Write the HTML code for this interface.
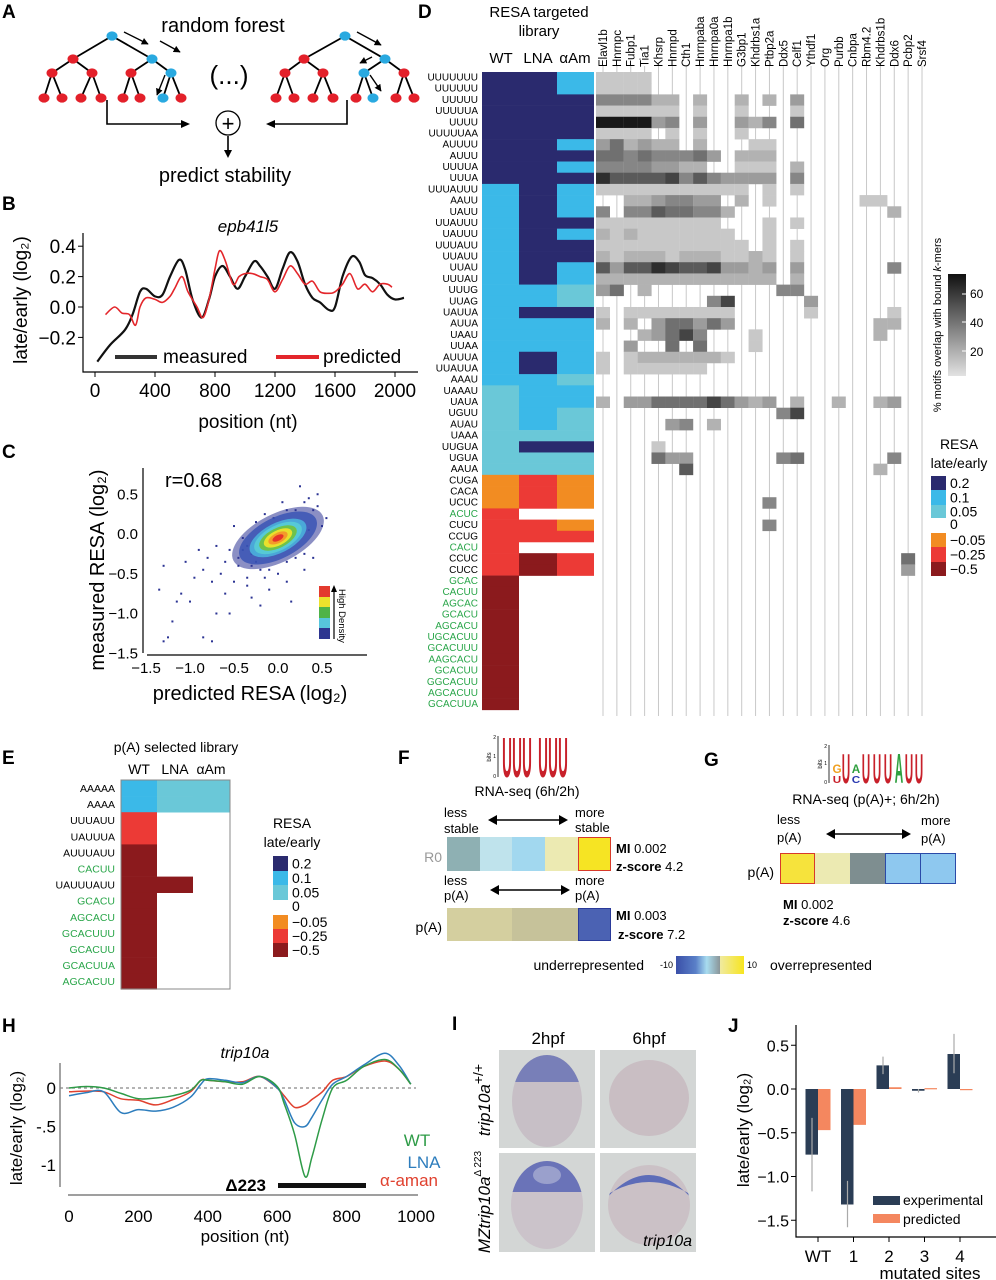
<!DOCTYPE html>
<html><head><meta charset="utf-8"><style>
html,body{margin:0;padding:0;background:#fff;}
svg{display:block;font-family:"Liberation Sans",Arial,sans-serif;}
</style></head><body>
<svg id="fig" width="996" height="1280" viewBox="0 0 996 1280" xmlns="http://www.w3.org/2000/svg">
<defs>
<linearGradient id="cbgrad" x1="0" x2="1" y1="0" y2="0">
<stop offset="0" stop-color="#3a4fa8"/><stop offset="0.45" stop-color="#5a80c8"/><stop offset="0.7" stop-color="#a8dcef"/><stop offset="1" stop-color="#8a9598"/>
</linearGradient>
<linearGradient id="graybar" x1="0" x2="0" y1="0" y2="1">
<stop offset="0" stop-color="#111"/><stop offset="1" stop-color="#e2e2e2"/>
</linearGradient>
<linearGradient id="ybar" x1="0" x2="1"><stop offset="0" stop-color="#f0eaa0"/><stop offset="1" stop-color="#f7e51f"/></linearGradient>
<marker id="ah" viewBox="0 0 10 10" refX="9" refY="5" markerWidth="5" markerHeight="5" orient="auto"><path d="M0,0 L10,5 L0,10 Z" fill="#000"/></marker>
</defs>

<!-- Panel labels -->
<g font-weight="bold" font-size="19">
<text x="2" y="18">A</text>
<text x="2" y="210">B</text>
<text x="2" y="458">C</text>
<text x="418" y="18">D</text>
<text x="2" y="764">E</text>
<text x="398" y="764">F</text>
<text x="704" y="766">G</text>
<text x="2" y="1032">H</text>
<text x="452" y="1030">I</text>
<text x="728" y="1032">J</text>
</g>

<!-- Panel A -->
<g id="panelA">
<text x="223" y="32" font-size="20" text-anchor="middle">random forest</text>
<text x="229" y="84" font-size="26" text-anchor="middle">(...)</text>
<text x="225" y="182" font-size="20" text-anchor="middle">predict stability</text>
<circle cx="228" cy="123" r="12" fill="none" stroke="#000" stroke-width="1.3"/>
<text x="228" y="131" font-size="22" text-anchor="middle">+</text>
</g>

<!-- Panel B -->
<g id="panelB">
<text x="248" y="232" font-size="17" font-style="italic" text-anchor="middle">epb41l5</text>
<text transform="translate(27,300) rotate(-90)" font-size="19" text-anchor="middle">late/early (log₂)</text>
<text x="248" y="428" font-size="19" text-anchor="middle">position (nt)</text>
<line x1="115" y1="357" x2="157" y2="357" stroke="#333" stroke-width="4"/>
<text x="163" y="363" font-size="19">measured</text>
<line x1="276" y1="357" x2="319" y2="357" stroke="#e3262b" stroke-width="4"/>
<text x="323" y="363" font-size="19">predicted</text>
</g>

<!-- Panel C -->
<g id="panelC">
<text x="165" y="487" font-size="20">r=0.68</text>
<text transform="translate(104,570) rotate(-90)" font-size="20" text-anchor="middle">measured RESA (log₂)</text>
<text x="250" y="700" font-size="20" text-anchor="middle">predicted RESA (log₂)</text>
<g>
<rect x="319" y="586" width="11" height="11" fill="#e33a2e"/>
<rect x="319" y="597" width="11" height="10" fill="#ece22c"/>
<rect x="319" y="607" width="11" height="11" fill="#4fb348"/>
<rect x="319" y="618" width="11" height="10" fill="#57c6dc"/>
<rect x="319" y="628" width="11" height="11" fill="#2d3590"/>
<line x1="334" y1="639" x2="334" y2="590" stroke="#000" stroke-width="1.2"/>
<path d="M331,592 L334,585 L337,592 Z" fill="#000"/>
<text transform="translate(339,589) rotate(90)" font-size="9.5">High Density</text>
</g>
</g>

<!-- Panel D header -->
<g id="panelD">
<text x="539" y="17" font-size="15" text-anchor="middle">RESA targeted</text>
<text x="539" y="36" font-size="15" text-anchor="middle">library</text>
<text x="501" y="63" font-size="15" text-anchor="middle">WT</text>
<text x="538" y="63" font-size="15" text-anchor="middle">LNA</text>
<text x="575" y="63" font-size="15" text-anchor="middle">αAm</text>
<rect x="948" y="274" width="18" height="102" fill="url(#graybar)"/>
<g font-size="12">
<line x1="962" y1="294" x2="966" y2="294" stroke="#fff"/><text x="970" y="298">60</text>
<line x1="962" y1="322" x2="966" y2="322" stroke="#fff"/><text x="970" y="327">40</text>
<line x1="962" y1="351" x2="966" y2="351" stroke="#fff"/><text x="970" y="356">20</text>
</g>
<text transform="translate(941,325) rotate(-90)" font-size="11" text-anchor="middle">% motifs overlap with bound <tspan font-style="italic">k</tspan>-mers</text>
<text x="959" y="449" font-size="14" text-anchor="middle">RESA</text>
<text x="959" y="468" font-size="14" text-anchor="middle">late/early</text>
</g>
<g id="legD"></g>

<!-- Panel E -->
<g id="panelE">
<text x="176" y="752" font-size="14" text-anchor="middle">p(A) selected library</text>
<text x="139" y="774" font-size="14" text-anchor="middle">WT</text>
<text x="175" y="774" font-size="14" text-anchor="middle">LNA</text>
<text x="211" y="774" font-size="14" text-anchor="middle">αAm</text>
<text x="292" y="828" font-size="14" text-anchor="middle">RESA</text>
<text x="292" y="847" font-size="14" text-anchor="middle">late/early</text>
</g>
<g id="legE"></g>

<!-- Panel F -->
<g id="panelF">
<g>
<line x1="498" y1="736" x2="498" y2="777" stroke="#000" stroke-width="0.8"/>
<text x="496" y="739" font-size="5" text-anchor="end">2</text><text x="496" y="758" font-size="5" text-anchor="end">1</text><text x="496" y="778" font-size="5" text-anchor="end">0</text>
<text transform="translate(491,757) rotate(-90)" font-size="6" text-anchor="middle">bits</text>
<g fill="#c8202a" font-size="15" font-weight="bold" text-anchor="middle">
<text transform="translate(507,777) scale(0.9,3.8)">U</text><text transform="translate(517,777) scale(0.9,3.8)">U</text><text transform="translate(527,777) scale(0.9,3.8)">U</text>
<text transform="translate(543,777) scale(0.9,3.8)">U</text><text transform="translate(553,777) scale(0.9,3.8)">U</text><text transform="translate(563,777) scale(0.9,3.8)">U</text>
</g></g>
<text x="527" y="796" font-size="14" text-anchor="middle">RNA-seq (6h/2h)</text>
<text x="444" y="817" font-size="13">less</text>
<text x="444" y="833" font-size="13">stable</text>
<text x="575" y="817" font-size="13">more</text>
<text x="575" y="832" font-size="13">stable</text>
<g><line x1="494" y1="820" x2="562" y2="820" stroke="#000" stroke-width="1.6"/><path d="M488,820 L497,815 L497,825Z M568,820 L559,815 L559,825Z"/></g>
<text x="442" y="862" font-size="14" fill="#999" text-anchor="end">R0</text>
<rect x="447" y="837" width="33" height="34" fill="#8eb0b3"/><rect x="480" y="837" width="32" height="34" fill="#bfe3ec"/>
<rect x="512" y="837" width="33" height="34" fill="#a2d8ef"/><rect x="545" y="837" width="33" height="34" fill="#eceab2"/>
<rect x="578.5" y="837.5" width="32" height="33" fill="#f6e423" stroke="#d83a2a"/>
<text x="616" y="853" font-size="13"><tspan font-weight="bold">MI</tspan> 0.002</text>
<text x="616" y="871" font-size="13"><tspan font-weight="bold">z-score</tspan> 4.2</text>
<text x="444" y="885" font-size="13">less</text>
<text x="444" y="900" font-size="13">p(A)</text>
<text x="575" y="885" font-size="13">more</text>
<text x="575" y="900" font-size="13">p(A)</text>
<g><line x1="496" y1="890" x2="564" y2="890" stroke="#000" stroke-width="1.6"/><path d="M490,890 L499,885 L499,895Z M570,890 L561,885 L561,895Z"/></g>
<text x="442" y="932" font-size="14" text-anchor="end">p(A)</text>
<rect x="447" y="908" width="65" height="33" fill="#d4cf9f"/><rect x="512" y="908" width="66" height="33" fill="#c6c29a"/>
<rect x="578.5" y="908.5" width="32" height="32" fill="#4b62b3" stroke="#2a3a9a"/>
<text x="616" y="920" font-size="13"><tspan font-weight="bold">MI</tspan> 0.003</text>
<text x="618" y="939" font-size="13"><tspan font-weight="bold">z-score</tspan> 7.2</text>
<text x="644" y="970" font-size="14" text-anchor="end">underrepresented</text>
<text x="673" y="968" font-size="9" text-anchor="end">-10</text>
<rect x="676" y="956" width="44" height="18" fill="url(#cbgrad)"/>
<rect x="720" y="956" width="24" height="18" fill="url(#ybar)"/>
<text x="747" y="968" font-size="9">10</text>
<text x="770" y="970" font-size="14">overrepresented</text>
</g>

<!-- Panel G -->
<g id="panelG">
<g>
<line x1="829" y1="745" x2="829" y2="783" stroke="#000" stroke-width="0.8"/>
<text x="827" y="748" font-size="5" text-anchor="end">2</text><text x="827" y="765" font-size="5" text-anchor="end">1</text><text x="827" y="784" font-size="5" text-anchor="end">0</text>
<text transform="translate(822,764) rotate(-90)" font-size="6" text-anchor="middle">bits</text>
<g font-size="13" font-weight="bold" text-anchor="middle">
<text transform="translate(837,783) scale(0.9,0.8)" fill="#c8202a">U</text>
<text transform="translate(837,773) scale(0.9,0.9)" fill="#f0a020">G</text>
<text transform="translate(846,783) scale(0.9,3.2)" fill="#c8202a">U</text>
<text transform="translate(856,783) scale(0.9,0.8)" fill="#2a3ab0">C</text>
<text transform="translate(856,773) scale(0.9,0.9)" fill="#30a040">A</text>
<text transform="translate(866,783) scale(0.9,3.2)" fill="#c8202a">U</text>
<text transform="translate(877,783) scale(0.9,3.2)" fill="#c8202a">U</text>
<text transform="translate(888,783) scale(0.9,3.2)" fill="#c8202a">U</text>
<text transform="translate(899,783) scale(0.9,3.2)" fill="#30a040">A</text>
<text transform="translate(909,783) scale(0.9,3.2)" fill="#c8202a">U</text>
<text transform="translate(919,783) scale(0.9,3.2)" fill="#c8202a">U</text>
</g></g>
<text x="866" y="804" font-size="14" text-anchor="middle">RNA-seq (p(A)+; 6h/2h)</text>
<text x="777" y="824" font-size="13">less</text>
<text x="777" y="842" font-size="13">p(A)</text>
<text x="921" y="825" font-size="13">more</text>
<text x="921" y="843" font-size="13">p(A)</text>
<g><line x1="832" y1="834" x2="905" y2="834" stroke="#000" stroke-width="1.6"/><path d="M826,834 L835,829 L835,839Z M911,834 L902,829 L902,839Z"/></g>
<text x="774" y="877" font-size="14" text-anchor="end">p(A)</text>
<rect x="780.5" y="853.5" width="34" height="30" fill="#f6e33c" stroke="#d83a2a"/>
<rect x="815" y="853" width="35" height="31" fill="#eceab2"/>
<rect x="850" y="853" width="35" height="31" fill="#7e8e90"/>
<rect x="885.5" y="853.5" width="35" height="30" fill="#8ec8ef" stroke="#2a4aa8"/>
<rect x="920.5" y="853.5" width="35" height="30" fill="#8ec8ef" stroke="#2a4aa8"/>
<text x="783" y="909" font-size="13"><tspan font-weight="bold">MI</tspan>  0.002</text>
<text x="783" y="925" font-size="13"><tspan font-weight="bold">z-score</tspan>  4.6</text>
</g>

<!-- Panel H -->
<g id="panelH">
<text x="245" y="1058" font-size="16" font-style="italic" text-anchor="middle">trip10a</text>
<text transform="translate(22,1128) rotate(-90)" font-size="17" text-anchor="middle">late/early (log₂)</text>
<text x="245" y="1242" font-size="17" text-anchor="middle">position (nt)</text>
<text x="417" y="1146" font-size="17" fill="#2e9b47" text-anchor="middle">WT</text>
<text x="424" y="1168" font-size="17" fill="#2d7dbd" text-anchor="middle">LNA</text>
<text x="438" y="1186" font-size="17" fill="#e0412f" text-anchor="end">α-aman</text>
<text x="266" y="1191" font-size="17" font-weight="bold" text-anchor="end">Δ223</text>
<rect x="278" y="1183" width="88" height="5" fill="#111"/>
</g>

<!-- Panel I -->
<g id="panelI">
<text x="548" y="1044" font-size="17" text-anchor="middle">2hpf</text>
<text x="649" y="1044" font-size="17" text-anchor="middle">6hpf</text>
<text transform="translate(490,1100) rotate(-90)" font-size="17" text-anchor="middle"><tspan font-style="italic">trip10a</tspan><tspan dy="-7" font-size="14">+/+</tspan></text>
<text transform="translate(490,1202) rotate(-90)" font-size="17" text-anchor="middle"><tspan font-style="italic">MZtrip10a</tspan><tspan dy="-9" font-size="10">Δ 223</tspan></text>
<rect x="499" y="1050" width="96" height="98" fill="#d3d6d5"/>
<rect x="600" y="1050" width="96" height="98" fill="#d3d6d5"/>
<rect x="499" y="1153" width="96" height="99" fill="#d3d6d5"/>
<rect x="600" y="1153" width="96" height="99" fill="#d3d6d5"/>
<clipPath id="e1"><ellipse cx="547" cy="1101" rx="35" ry="46"/></clipPath>
<ellipse cx="547" cy="1101" rx="35" ry="46" fill="#c7bfc6"/>
<rect x="510" y="1054" width="75" height="28" fill="#6f78b6" clip-path="url(#e1)" opacity="0.9"/>
<ellipse cx="649" cy="1098" rx="40" ry="38" fill="#c9bec3"/>
<clipPath id="e3"><ellipse cx="547" cy="1205" rx="36" ry="44"/></clipPath>
<ellipse cx="547" cy="1205" rx="36" ry="44" fill="#cbc3ca"/>
<rect x="510" y="1160" width="75" height="32" fill="#6a73b8" clip-path="url(#e3)"/>
<ellipse cx="547" cy="1175" rx="14" ry="9" fill="#9aa0cc"/>
<clipPath id="e4"><ellipse cx="649" cy="1205" rx="41" ry="40"/></clipPath>
<ellipse cx="649" cy="1205" rx="41" ry="40" fill="#cbc1c6"/>
<path d="M605,1200 Q649,1150 693,1200 L693,1196 Q649,1168 605,1196 Z" fill="#5d6cb8" clip-path="url(#e4)"/>
<text x="692" y="1246" font-size="16" font-style="italic" text-anchor="end">trip10a</text>
</g>

<!-- Panel J -->
<g id="panelJ">
<text transform="translate(749,1130) rotate(-90)" font-size="17" text-anchor="middle">late/early (log₂)</text>
<text x="930" y="1279" font-size="17" text-anchor="middle">mutated sites</text>
<rect x="873" y="1196" width="27" height="9" fill="#2b3d55"/>
<text x="903" y="1205" font-size="14">experimental</text>
<rect x="873" y="1214" width="27" height="9" fill="#f4875f"/>
<text x="903" y="1224" font-size="14">predicted</text>
</g>
</svg>

<script>
// ===== Panel B data =====
const bMeasuredPos = [15,100,200,250,300,340,400,450,500,560,600,650,710,760,800,850,900,950,1000,1060,1100,1150,1200,1250,1300,1350,1400,1450,1500,1560,1600,1650,1710,1760,1800,1850,1900,1950,2000,2060];
const bMeasuredVal = [-0.36,-0.25,-0.15,-0.05,0.1,0.12,0.07,0.08,0.2,0.31,0.25,0.05,-0.07,0.05,0.2,0.27,0.2,0.12,0.2,0.3,0.27,0.2,0.12,0.25,0.36,0.3,0.15,0.06,0.03,-0.02,0.0,0.2,0.33,0.3,0.21,0.19,0.15,0.08,0.05,0.06];
const bPredPos = [70,130,180,230,270,300,340,400,450,500,530,580,620,680,720,760,800,830,870,920,960,1000,1050,1100,1150,1200,1250,1300,1350,1400,1450,1500,1560,1600,1650,1700,1750,1800,1850,1900,1950,1980];
const bPredVal = [-0.05,0.0,-0.04,-0.05,-0.12,0.0,0.06,0.05,0.03,0.07,0.12,0.2,0.1,0.0,-0.07,0.05,0.25,0.37,0.3,0.15,0.2,0.22,0.22,0.2,0.18,0.1,0.18,0.27,0.22,0.15,0.17,0.1,0.09,0.1,0.15,0.22,0.12,0.15,0.1,0.15,0.15,0.13];
const bXTicks = [0,400,800,1200,1600,2000];
const bYTicks = [0.4,0.2,0.0,-0.2];
const bYTickLabels = ["0.4","0.2","0.0","−0.2"];

// ===== Panel C data =====
const cXTicks = [-1.5,-1.0,-0.5,0.0,0.5];
const cXTickLabels = ["−1.5","−1.0","−0.5","0.0","0.5"];
const cYTicks = [0.5,0.0,-0.5,-1.0,-1.5];
const cYTickLabels = ["0.5","0.0","−0.5","−1.0","−1.5"];
const cPointsX = [-1.25,-1.2,-1.3,-1.15,-1.0,-0.85,-0.75,-0.7,-0.55,-1.35,-1.3,-1.05,-0.85,-0.8,-0.6,-0.5,-0.65,-0.45,-0.35,-0.3,-0.2,-0.1,0.1,-0.4,-0.55,-0.3,-0.7,-0.15,0.05,0.25,0.35,0.45,0.55,0.5,0.4,0.3,-0.5,0.15,-0.9,-1.1,-0.25,0.2,-0.45,-0.6,-0.35,-0.2,0.0,-0.05,0.3,0.45,-0.75,-0.95,-0.4,-0.15,0.1,0.35,-0.3,-0.25,-0.1,0.2,0.4,0.3,-0.35,0.1];
const cPointsY = [-1.3,-1.1,-1.35,-0.85,-0.85,-1.3,-1.35,-1.0,-1.0,-0.7,-0.4,-0.35,-0.45,-0.3,-0.75,-0.6,-0.5,-0.3,-0.55,-0.8,-0.9,-0.7,-0.6,-0.05,-0.2,-0.4,-0.15,0.25,0.4,0.6,0.45,0.5,0.2,0.1,-0.3,-0.45,0.1,-0.85,-0.2,-0.75,0.15,0.3,-0.4,-0.35,-0.65,-0.45,-0.5,0.2,-0.25,0.35,-0.6,-0.55,-0.2,-0.55,-0.35,0.05,-0.25,-0.35,-0.45,-0.3,0.3,0.4,-0.15,0.3];
const cBlobCenter = [0.0,-0.05];
const cBlobColors = ["#2b3393","#3a55b5","#4aa8d8","#56c9d6","#6fc24a","#e8e02c","#f39a2a","#e53229"];
const cBlobScale = [1.0,0.85,0.62,0.52,0.41,0.31,0.21,0.12];

// ===== Panel D data =====
const dRowLabels = ["UUUUUUU","UUUUUU","UUUUU","UUUUUA","UUUU","UUUUUAA","AUUUU","AUUU","UUUUA","UUUA","UUUAUUU","AAUU","UAUU","UUAUUU","UAUUU","UUUAUU","UUAUU","UUAU","UUUAU","UUUG","UUAG","UAUUA","AUUA","UAAU","UUAA","AUUUA","UUAUUA","AAAU","UAAAU","UAUA","UGUU","AUAU","UAAA","UUGUA","UGUA","AAUA","CUGA","CACA","UCUC","ACUC","CUCU","CCUG","CACU","CCUC","CUCC","GCAC","CACUU","AGCAC","GCACU","AGCACU","UGCACUU","GCACUUU","AAGCACU","GCACUU","GGCACUU","AGCACUU","GCACUUA"];
const dGreenRows = [39,42,45,46,47,48,49,50,51,52,53,54,55,56];
// level codes: 3=0.2,2=0.1,1=0.05,-1=-0.05,-2=-0.25,-3=-0.5, 0 = none
const dWTLevels  = [3,3,3,3,3,3,3,3,3,3, 2,2,2,2,2,2,2,2,2,2,2,2,2,2,2,2,2,2, 1,1,1,1,1,1,1,1, -1,-1,-1, -2,-2,-2,-2,-2,-2, -3,-3,-3,-3,-3,-3,-3,-3,-3,-3,-3,-3];
const dLNALevels = [3,3,3,3,3,3,3,3,3,3,3,3,3,3,3,3,3,3,3, 2,2, 3, 2,2,2, 3,3, 2,2,2,2,2, 1, 3, 1,1, -2,-2,-2, 0, -2,-2, 0, -3,-3, 0,0,0,0,0,0,0,0,0,0,0,0];
const dAAmLevels = [2,2,3,3,3,3,2,3,2,3, 2,2,2,3,2,3,3,2,2, 1,1, 3, 2,2,2,2,2, 1, 2,2, 1,1,1, 3, 1,1, -1,-1,-1, 0, -1, -2, 0, -2,-2, 0,0,0,0,0,0,0,0,0,0,0,0];
const dRbps = ["Elavl1b","Hnrnpc","Fubp1","Tia1","Khsrp","Hnrnpd","Cth1","Hnrnpaba","Hnrnpa0a","Hnrnpa1b","G3bp1","Khdrbs1a","Ptbp2a","Ddx5","Celf1","Ythdf1","Org","Purbb","Cnbpa","Rbm4.2","Khdrbs1b","Ddx6","Pcbp2","Srsf4"];
const dOverlap = [
"111100000000000000000000","111100000000000000000000","444422020020203000000000","111111010010001000000000",
"999934030032405000000000","111101010010000000000000","352322020001100000000000","554544453022200000000000",
"444433220011102000000000","866667464333304000000000","111111111110101000000000","002234433020100000011000",
"404465544200000000000200","111111111000101000000000","212111111100100000000000","111111111110101000000000",
"212221222112101000000000","636687667332303000000400","222222222222202000000000","350200000000044000000000",
"000000004700000300000000","101111111100000100000100","202035535300000000002200","000235740001000000002000",
"003005050001000000000000","101222222100000000000000","101111110000000000000000","000000000000000000000000",
"000000000000000000000000","203355557532302002002300","000000000000047000000000","000003402000000000000000",
"000000000000000000000000","000010000000000000000000","000053300000045000000400","000000600000000000002000",
"000000000000000000000000","000000000000000000000000","000000000000400000000000","000000000000000000000000",
"000000000000400000000000","000000000000000000000000","000000000000000000000000","000000000000000000000050",
"000000000000000000000030"];
const legendLabels = ["0.2","0.1","0.05","0","−0.05","−0.25","−0.5"];

// ===== Panel E data =====
const eRowLabels = ["AAAAA","AAAA","UUUAUU","UAUUUA","AUUUAUU","CACUU","UAUUUAUU","GCACU","AGCACU","GCACUUU","GCACUU","GCACUUA","AGCACUU"];
const eGreenRows = [5,7,8,9,10,11,12];
const eWTLevels  = [2,2,-2,-2,-3,-3,-3,-3,-3,-3,-3,-3,-3];
const eLNALevels = [1,1,0,0,0,0,-3,0,0,0,0,0,0];
const eAAmLevels = [1,1,0,0,0,0,0,0,0,0,0,0,0];

// ===== Panel H data =====
const hPos = [0,50,100,150,200,250,300,350,380,400,450,500,550,600,620,650,680,700,730,760,800,850,910,950,985];
const hWT  = [0,0.02,0,-0.07,-0.14,-0.13,-0.1,-0.03,0.1,0.1,0.08,0.05,0.15,0.02,-0.2,-0.6,-1.15,-0.9,-0.4,0.0,0.1,0.28,0.37,0.25,0.05];
const hLNA = [-0.1,-0.06,-0.05,-0.32,-0.28,-0.3,-0.25,-0.12,0.05,0.12,0.1,0.07,0.15,0.0,-0.15,-0.45,-0.5,-0.38,-0.15,0.05,0.15,0.3,0.45,0.3,0.05];
const hAman= [-0.05,-0.04,-0.05,-0.14,-0.16,-0.22,-0.15,-0.05,0.1,0.1,0.08,0.08,0.15,0.0,-0.1,-0.25,-0.22,-0.15,-0.05,0.1,0.15,0.28,0.35,0.25,0.05];
const hXTicks = [0,200,400,600,800,1000];
const hYTicks = [0,-0.5,-1];
const hYTickLabels = ["0","-.5","-1"];

// ===== Panel J data =====
const jCategories = ["WT","1","2","3","4"];
const jExperimental = [-0.75,-1.32,0.27,-0.02,0.4];
const jPredicted = [-0.47,-0.41,0.02,0.01,-0.01];
const jErrLow = [-1.17,-1.58,0.17,-0.04,0.18];
const jErrHigh = [-0.33,-1.05,0.37,0.0,0.63];
const jYTicks = [0.5,0.0,-0.5,-1.0,-1.5];
const jYTickLabels = ["0.5","0.0","−0.5","−1.0","−1.5"];

const NS = "http://www.w3.org/2000/svg";
function mk(parent, tag, attrs, txt) {
  const e = document.createElementNS(NS, tag);
  for (const k in attrs) e.setAttribute(k, attrs[k]);
  if (txt !== undefined) e.textContent = txt;
  parent.appendChild(e);
  return e;
}
function smooth(pts) {
  let d = "M" + pts[0][0].toFixed(1) + "," + pts[0][1].toFixed(1);
  for (let i = 0; i < pts.length - 1; i++) {
    const p0 = pts[i - 1] || pts[i], p1 = pts[i], p2 = pts[i + 1], p3 = pts[i + 2] || p2;
    const c1x = p1[0] + (p2[0] - p0[0]) / 6, c1y = p1[1] + (p2[1] - p0[1]) / 6;
    const c2x = p2[0] - (p3[0] - p1[0]) / 6, c2y = p2[1] - (p3[1] - p1[1]) / 6;
    d += " C" + c1x.toFixed(1) + "," + c1y.toFixed(1) + " " + c2x.toFixed(1) + "," + c2y.toFixed(1) + " " + p2[0].toFixed(1) + "," + p2[1].toFixed(1);
  }
  return d;
}

// ===== Panel A trees =====
(function () {
  const g = document.getElementById("panelA");
  const trees = [
    [[112,36,1],[73,59,0],[152,59,1],[52,73,0],[92,73,0],[131,73,0],[171,73,1],[44,98,0],[62,98,0],[81,98,0],[101,98,0],[123,98,0],[140,98,0],[163,98,1],[181,98,0]],
    [[345,36,1],[304,59,0],[385,59,1],[285,73,0],[323,73,0],[364,73,1],[404,73,0],[276,98,0],[294,98,0],[313,98,0],[333,98,0],[356,98,0],[373,98,1],[396,98,0],[414,98,0]]
  ];
  trees.forEach(function (n) {
    const edges = [[0,1],[0,2],[1,3],[1,4],[2,5],[2,6],[3,7],[3,8],[4,9],[4,10],[5,11],[5,12],[6,13],[6,14]];
    edges.forEach(function (e) {
      const l = mk(g, "line", {x1:n[e[0]][0], y1:n[e[0]][1], x2:n[e[1]][0], y2:n[e[1]][1], stroke:"#000", "stroke-width":1.8});
      
      
    });
    n.forEach(function (p) {
      const c = mk(g, "ellipse", {cx:p[0], cy:p[1], rx:5.5, ry:4.6, fill:p[2] ? "#29a9e0" : "#e3202a"});
      
      
    });
  });
  const arrows = [[124,32,148,44],[160,41,180,52],[165,75,157,95],[357,32,381,45],[372,57,360,63],[370,75,381,91]];
  arrows.forEach(function (a) {
    const l = mk(g, "line", {x1:a[0], y1:a[1], x2:a[2], y2:a[3], stroke:"#000", "stroke-width":1.4, "marker-end":"url(#ah)"});
    
    
  });
  const p = mk(g, "path", {d:"M107,100 L107,124 L183,124 M347,100 L347,124 L273,124 M228,136 L228,152", fill:"none", stroke:"#000", "stroke-width":1.6});
  
  
  const h = mk(g, "path", {d:"M190,124 L181,120 L181,128Z M266,124 L275,120 L275,128Z M228,158 L224,150 L232,150Z", fill:"#000"});
  
  
})();

// ===== Panel B =====
(function () {
  const g = document.getElementById("panelB");
  const xS = function (v) { return 95 + v * 0.15; };
  const yS = function (v) { return 307 - v * 152; };
  const ax = mk(g, "path", {d:"M83,233 L83,372 L418,372", fill:"none", stroke:"#000", "stroke-width":1.2});
  
  
  bXTicks.forEach(function (t) {
    const tk = mk(g, "line", {x1:xS(t), y1:372, x2:xS(t), y2:377, stroke:"#000"});
    
    
    const tx = mk(g, "text", {x:xS(t), y:397, "font-size":19, "text-anchor":"middle"}, String(t));
    
    
  });
  bYTicks.forEach(function (t, i) {
    const tk = mk(g, "line", {x1:78, y1:yS(t), x2:83, y2:yS(t), stroke:"#000"});
    
    
    const tx = mk(g, "text", {x:76, y:yS(t) + 7, "font-size":19, "text-anchor":"end"}, bYTickLabels[i]);
    
    
  });
  const m = mk(g, "path", {d:smooth(bMeasuredPos.map(function (p, i) { return [xS(p), yS(bMeasuredVal[i])]; })), fill:"none", stroke:"#111", "stroke-width":2.2});
  
  
  const r = mk(g, "path", {d:smooth(bPredPos.map(function (p, i) { return [xS(p), yS(bPredVal[i])]; })), fill:"none", stroke:"#e3262b", "stroke-width":1.6});
  
  
})();

// ===== Panel C =====
(function () {
  const g = document.getElementById("panelC");
  const xS = function (v) { return 278 + v * 88; };
  const yS = function (v) { return 534 - v * 79.5; };
  const ax = mk(g, "path", {d:"M143,468 L143,653 M147,655 L367,655", fill:"none", stroke:"#000", "stroke-width":1.2});
  
  
  cXTicks.forEach(function (t, i) {
    const tx = mk(g, "text", {x:xS(t), y:673, "font-size":15, "text-anchor":"middle"}, cXTickLabels[i]);
    
    
  });
  cYTicks.forEach(function (t, i) {
    const tx = mk(g, "text", {x:138, y:yS(t) + 5, "font-size":15, "text-anchor":"end"}, cYTickLabels[i]);
    
    
  });
  cPointsX.forEach(function (x, i) {
    const c = mk(g, "rect", {x:xS(x) - 1, y:yS(cPointsY[i]) - 1, width:2, height:2, fill:"#2b3393"});
    
    
  });
  const cx = xS(cBlobCenter[0]), cy = yS(cBlobCenter[1]);
  cBlobColors.forEach(function (col, i) {
    const e = mk(g, "ellipse", {cx:cx, cy:cy, rx:50 * cBlobScale[i], ry:24 * cBlobScale[i], fill:col, transform:"rotate(-27 " + cx + " " + cy + ")", opacity: i === 0 ? 0.55 : (i === 1 ? 0.85 : 1)});
    
    
  });
})();

// ===== Panel D =====
const levelColor = {"3":"#2a2a6e","2":"#3bb9e8","1":"#6ac8d8","-1":"#f28c22","-2":"#ec3a36","-3":"#8b1a1d"};
(function () {
  const g = document.getElementById("panelD");
  const top = 72, rh = 11.19;
  const colX = function (j) { return 603 + j * 13.87; };
  dRbps.forEach(function (name, j) {
    const l = mk(g, "line", {x1:colX(j), y1:66, x2:colX(j), y2:716, stroke:"#c8c8c8", "stroke-width":1});
    
    
    const t = mk(g, "text", {transform:"translate(" + (colX(j) + 4) + ",67) rotate(-90)", "font-size":11.5}, name);
    
    
  });
  dRowLabels.forEach(function (lab, i) {
    const y = top + i * rh;
    const t = mk(g, "text", {x:478, y:y + 8.5, "font-size":10, "text-anchor":"end", fill: dGreenRows.indexOf(i) >= 0 ? "#2aa64a" : "#000"}, lab);
    
    
    [[dWTLevels, 482, 37], [dLNALevels, 519, 38], [dAAmLevels, 557, 37]].forEach(function (c) {
      const lv = c[0][i];
      if (lv) {
        const r = mk(g, "rect", {x:c[1], y:y, width:c[2], height:rh + 0.3, fill:levelColor[String(lv)]});
        
        
      }
    });
    const row = (dOverlap[i] || "").padEnd(24, "0");
    for (let j = 0; j < 24; j++) {
      const v = parseInt(row[j], 10);
      if (v > 0) {
        const s = Math.round(222 - v * 22);
        const r = mk(g, "rect", {x:colX(j) - 7, y:y, width:14, height:rh + 0.3, fill:"rgb(" + s + "," + s + "," + s + ")"});
        
        
      }
    }
  });
})();

function drawLegend(gid, x, ys, labelX, fs) {
  const g = document.getElementById(gid);
  const cols = ["3","2","1",null,"-1","-2","-3"];
  cols.forEach(function (c, i) {
    if (c) {
      const r = mk(g, "rect", {x:x, y:ys[i][0], width:15, height:ys[i][1] - ys[i][0], fill:levelColor[c]});
      
      
    }
    const t = mk(g, "text", {x:labelX, y:(ys[i][0] + ys[i][1]) / 2 + 5, "font-size":fs}, legendLabels[i]);
    
    
  });
}
drawLegend("legD", 931, [[476,490],[490,505],[505,518],[518,530],[533,547],[547,562],[562,576]], 950, 14);
drawLegend("legE", 273, [[856,871],[871,885],[885,900],[900,912],[915,929],[929,943],[943,957]], 292, 14);

// ===== Panel E =====
(function () {
  const g = document.getElementById("panelE");
  const top = 780, rh = 16.1;
  eRowLabels.forEach(function (lab, i) {
    const y = top + i * rh;
    const t = mk(g, "text", {x:115, y:y + 12, "font-size":10.5, "text-anchor":"end", fill: eGreenRows.indexOf(i) >= 0 ? "#2aa64a" : "#000"}, lab);
    
    
    [[eWTLevels, 121, 36], [eLNALevels, 157, 36], [eAAmLevels, 193, 37]].forEach(function (c) {
      let lv = c[0][i];
      if (lv) {
        let w = c[2];
        if (c[0] === eLNALevels && i < 2) w = 73;
        const r = mk(g, "rect", {x:c[1], y:y, width:w, height:rh + 0.3, fill:levelColor[String(lv)]});
        
        
      }
    });
  });
  const b = mk(g, "rect", {x:121, y:780, width:109, height:209, fill:"none", stroke:"#888", "stroke-width":1});
  
  
})();

// ===== Panel H =====
(function () {
  const g = document.getElementById("panelH");
  const xS = function (v) { return 69 + v * 0.347; };
  const yS = function (v) { return 1088 - v * 77; };
  const ax = mk(g, "path", {d:"M60,1063 L60,1187 M68,1195 L418,1195", fill:"none", stroke:"#666", "stroke-width":1.2});
  
  
  const z = mk(g, "line", {x1:60, y1:yS(0), x2:416, y2:yS(0), stroke:"#888", "stroke-dasharray":"3,3", "stroke-width":1.2});
  
  
  hXTicks.forEach(function (t) {
    const tx = mk(g, "text", {x:xS(t), y:1222, "font-size":17, "text-anchor":"middle"}, String(t));
    
    
  });
  hYTicks.forEach(function (t, i) {
    const tx = mk(g, "text", {x:56, y:yS(t) + 6, "font-size":17, "text-anchor":"end"}, hYTickLabels[i]);
    
    
  });
  [[hAman, "#e0412f", "aman-line"], [hLNA, "#2d7dbd", "lna-line"], [hWT, "#2e9b47", "wt-line"]].forEach(function (s) {
    const p = mk(g, "path", {d:smooth(hPos.map(function (x, i) { return [xS(x), yS(s[0][i])]; })), fill:"none", stroke:s[1], "stroke-width":1.5});
    
    
  });
})();

// ===== Panel J =====
(function () {
  const g = document.getElementById("panelJ");
  const yS = function (v) { return 1089 - v * 87.5; };
  const xC = function (i) { return 818 + i * 35.5; };
  const ax = mk(g, "path", {d:"M796,1025 L796,1237 L996,1237", fill:"none", stroke:"#000", "stroke-width":1.2});
  
  
  jYTicks.forEach(function (t, i) {
    const tk = mk(g, "line", {x1:791, y1:yS(t), x2:796, y2:yS(t), stroke:"#000"});
    
    
    const tx = mk(g, "text", {x:789, y:yS(t) + 6, "font-size":16, "text-anchor":"end"}, jYTickLabels[i]);
    
    
  });
  jCategories.forEach(function (c, i) {
    const x = xC(i);
    const tk = mk(g, "line", {x1:x, y1:1237, x2:x, y2:1242, stroke:"#000"});
    
    
    const tx = mk(g, "text", {x:x, y:1262, "font-size":17, "text-anchor":"middle"}, c);
    
    
    const e = jExperimental[i], p = jPredicted[i];
    const be = mk(g, "rect", {x:x - 12.5, y:Math.min(yS(0), yS(e)), width:12.5, height:Math.max(1.2, Math.abs(yS(e) - yS(0))), fill:"#2b3d55"});
    
    
    const bp = mk(g, "rect", {x:x, y:Math.min(yS(0), yS(p)), width:12.5, height:Math.max(1.2, Math.abs(yS(p) - yS(0))), fill:"#f4875f"});
    
    
    const er = mk(g, "line", {x1:x - 6, y1:yS(jErrLow[i]), x2:x - 6, y2:yS(jErrHigh[i]), stroke:"#aaa", "stroke-width":1.2});
    
    
  });
})();
</script>
</body></html>
